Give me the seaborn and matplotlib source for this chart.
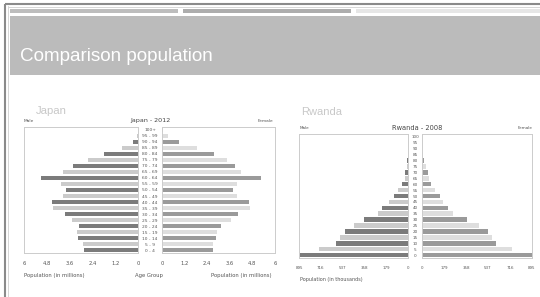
import matplotlib
matplotlib.use("Agg")
import matplotlib.pyplot as plt
from matplotlib.patches import Rectangle
import seaborn as sns
import pandas as pd

sns.set_style("white")
plt.rcParams["font.family"] = ["DejaVu Sans"]

# ---------------- data ----------------
japan_ages = ["0 - 4", "5 - 9", "10 - 14", "15 - 19", "20 - 24", "25 - 29", "30 - 34",
              "35 - 39", "40 - 44", "45 - 49", "50 - 54", "55 - 59", "60 - 64", "65 - 69",
              "70 - 74", "75 - 79", "80 - 84", "85 - 89", "90 - 94", "95 - 99", "100+"]
japan_male = [2.82, 2.88, 3.14, 3.23, 3.10, 3.49, 3.84, 4.49, 4.54, 3.96, 3.80,
              4.05, 5.10, 3.93, 3.40, 2.65, 1.79, 0.86, 0.25, 0.07, 0.01]
japan_female = [2.73, 2.73, 2.87, 2.92, 3.15, 3.66, 4.05, 4.67, 4.64, 3.98, 3.79,
                4.00, 5.24, 4.18, 3.90, 3.47, 2.76, 1.84, 0.90, 0.30, 0.05]
japan_ticks = [0, 1.2, 2.4, 3.6, 4.8, 6]
japan_ticklabels = ["0", "1.2", "2.4", "3.6", "4.8", "6"]

rwanda_ages = ["0", "5", "10", "15", "20", "25", "30", "35", "40", "45", "50",
               "55", "60", "65", "70", "75", "80", "85", "90", "95", "100"]
rwanda_male = [887, 732, 588, 561, 521, 445, 358, 250, 214, 160, 118,
               86, 50, 28, 22, 12, 10, 4, 2, 1, 0]
rwanda_female = [895, 736, 600, 570, 537, 460, 370, 255, 211, 168, 150,
                 105, 75, 60, 52, 32, 20, 5, 3, 1, 0]
rwanda_ticks = [0, 179, 358, 537, 716, 895]
rwanda_ticklabels = ["0", "179", "358", "537", "716", "895"]

W, H = 540, 297
fig = plt.figure(figsize=(W / 100, H / 100), dpi=100)
fig.patch.set_facecolor("white")

bg = fig.add_axes([0, 0, 1, 1], zorder=0)
bg.set_xlim(0, W)
bg.set_ylim(H, 0)
bg.axis("off")

# page decoration
bg.plot([5, 5], [4, H], color="#8a8a8a", lw=1.5, solid_capstyle="butt")
bg.plot([5, W], [4, 4], color="#8a8a8a", lw=1.5, solid_capstyle="butt")
bg.plot([7.5, 7.5], [6, H], color="#d6d6d6", lw=0.7)
bg.plot([7.5, W], [6.5, 6.5], color="#d6d6d6", lw=0.7)
bg.add_patch(Rectangle((10, 9), 168, 4, color="#bdbdbd", lw=0))
bg.add_patch(Rectangle((183, 9), 168, 4, color="#adadad", lw=0))
bg.add_patch(Rectangle((356, 9), 184, 4, color="#e6e6e6", lw=0))
bg.add_patch(Rectangle((10, 16), 530, 59, color="#bbbbbb", lw=0))
bg.text(20, 61, "Comparison population", color="white", fontsize=13.6,
        family="Liberation Sans", va="baseline", ha="left")

txt = "#555555"
bg.text(36, 111, "Japan", color="#c8c8c8", fontsize=8.2, family="Liberation Sans", va="center")
bg.text(24, 120.5, "Male", color=txt, fontsize=3.2, va="center")
bg.text(150, 120.5, "Japan - 2012", color="#444444", fontsize=4.6, va="center", ha="center")
bg.text(273, 120.5, "Female", color=txt, fontsize=3.2, va="center", ha="right")
bg.text(24, 275, "Population (in millions)", color=txt, fontsize=3.8, va="center")
bg.text(149, 275, "Age Group", color=txt, fontsize=3.8, va="center", ha="center")
bg.text(272, 275, "Population (in millions)", color=txt, fontsize=3.8, va="center", ha="right")

bg.text(301, 112, "Rwanda", color="#c8c8c8", fontsize=8.0, family="Liberation Sans", va="center")
bg.text(300, 128, "Male", color=txt, fontsize=3.0, va="center")
bg.text(417, 128, "Rwanda - 2008", color="#444444", fontsize=4.8, va="center", ha="center")
bg.text(533, 128, "Female", color=txt, fontsize=3.0, va="center", ha="right")
bg.text(300, 279, "Population (in thousands)", color=txt, fontsize=3.5, va="center")


def px_axes(x0, y0, x1, y1):
    return fig.add_axes([x0 / W, 1 - y1 / H, (x1 - x0) / W, (y1 - y0) / H], zorder=2)


def panel(ax, ages, vals, dark, light, ticks, ticklabels, xmax, left, tsize, pad, ylab_pad, ylab_size):
    df = pd.DataFrame({"age": ages, "value": vals})
    pal = {a: (dark if i % 2 == 0 else light) for i, a in enumerate(ages)}
    order = ages[::-1]
    sns.barplot(data=df, x="value", y="age", hue="age", palette=pal, order=order,
                hue_order=order, legend=False, orient="h", width=0.78, dodge=False,
                ax=ax, saturation=1, errorbar=None, linewidth=0)
    ax.set_xlim((xmax, 0) if left else (0, xmax))
    ax.set_ylim(20.5, -0.5)
    ax.set_xticks(ticks)
    ax.set_xticklabels(ticklabels)
    ax.set_xlabel("")
    ax.set_ylabel("")
    ax.tick_params(axis="x", labelsize=tsize, colors="#555555", length=1.5,
                   width=0.5, pad=pad, color="#bbbbbb")
    for s in ax.spines.values():
        s.set_color("#cccccc")
        s.set_linewidth(0.7)
        s.set_visible(True)
    ax.set_facecolor("white")
    if left:
        ax.set_yticks([])
    else:
        ax.tick_params(axis="y", length=0, labelsize=ylab_size, colors="#555555", pad=ylab_pad)
        for lab in ax.get_yticklabels():
            lab.set_ha("center")


ja_l = px_axes(24, 127, 138, 253)
ja_r = px_axes(162, 127, 275, 253)
panel(ja_l, japan_ages, japan_male, "#7b7b7b", "#cbcbcb", japan_ticks, japan_ticklabels, 6, True, 3.8, 4.0, 0, 3.2)
panel(ja_r, japan_ages, japan_female, "#9a9a9a", "#dedede", japan_ticks, japan_ticklabels, 6, False, 3.8, 4.0, 8.6, 3.2)

rw_l = px_axes(299, 134, 408, 258)
rw_r = px_axes(422, 134, 532, 258)
panel(rw_l, rwanda_ages, rwanda_male, "#7b7b7b", "#cbcbcb", rwanda_ticks, rwanda_ticklabels, 895, True, 2.9, 4.0, 0, 3.0)
panel(rw_r, rwanda_ages, rwanda_female, "#9a9a9a", "#dedede", rwanda_ticks, rwanda_ticklabels, 895, False, 2.9, 4.0, 5.0, 3.0)

fig.savefig("out.png", dpi=100, facecolor="white")
